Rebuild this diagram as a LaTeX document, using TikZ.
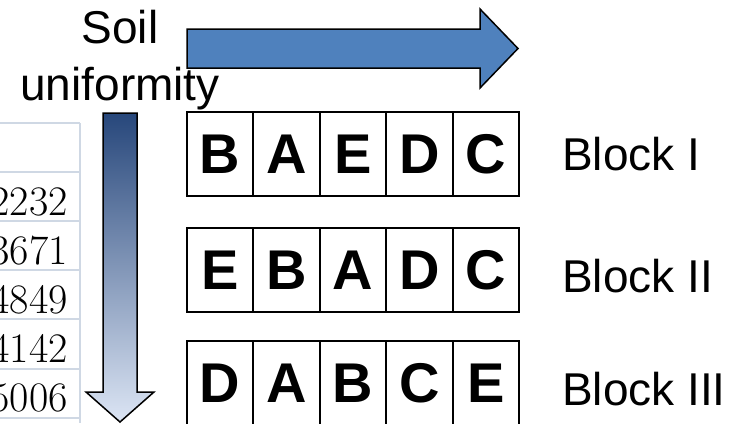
\documentclass[tikz,border=0pt]{standalone}
\usepackage{fontspec}
\setsansfont{Liberation Sans}
\definecolor{arrowblue}{HTML}{4F81BD}
\definecolor{shadetop}{HTML}{27477B}
\definecolor{shademid}{HTML}{8FA6CC}
\definecolor{shadebot}{HTML}{DCE5F4}
\definecolor{gridline}{HTML}{CFD8E4}
\begin{document}
\begin{tikzpicture}[x=1pt,y=-1pt,
  plotcell/.style={draw, line width=2pt, minimum width=66.4pt, minimum height=84pt,
    inner sep=0pt, font=\sffamily\bfseries\fontsize{56}{60}\selectfont},
  blocklabel/.style={anchor=base west, inner sep=0pt,
    font=\sffamily\fontsize{46}{52}\selectfont},
  tablenum/.style={anchor=base east, inner sep=0pt, font=\fontsize{42}{48}\selectfont},
  tablerule/.style={draw=gridline, line width=2.8pt},
  bigarrow/.style={draw=black, line width=1.5pt, line join=miter}]
\useasboundingbox (0,0) rectangle (744,423);
\clip (0,0) rectangle (744,423);

% fragment of the data table on the left
\foreach \y in {123,172,221,270,319,369,418}
  \draw[tablerule] (0,\y) -- (80,\y);
\draw[tablerule] (80,123) -- (80,423);
\foreach \v/\b [count=\i] in {2232/215,3671/264,4849/313,4142/362,5006/411}
  \node[tablenum] (num\i) at (68,\b) {\v};

% horizontal arrow (solid fill)
\path[bigarrow, fill=arrowblue]
  (187,29) -- (480,29) -- (480,9) -- (518,48.5) -- (480,88) -- (480,68) -- (187,68) -- cycle;

% vertical arrow (dark to light gradient)
\path[bigarrow, top color=shadetop, middle color=shademid, bottom color=shadebot]
  (103,113) -- (137,113) -- (137,392) -- (154,392) -- (120,422) -- (86,392) -- (103,392) -- cycle;

% axis caption (anchored on the baseline of its last line)
\node[anchor=base, align=center, inner sep=0pt,
  font=\sffamily\fontsize{46}{57}\selectfont] (caption) at (120,100) {Soil\\uniformity};

% plots of the three blocks
\foreach \row/\yc in {1/154,2/270,3/383}{
  \foreach \c in {1,...,5}{
    \coordinate (pos-\row-\c) at ({187+66.4*(\c-0.5)},\yc);
  }
}
\foreach \c/\t in {1/B,2/A,3/E,4/D,5/C}
  \node[plotcell] (cell-1-\c) at (pos-1-\c) {\t};
\foreach \c/\t in {1/E,2/B,3/A,4/D,5/C}
  \node[plotcell] (cell-2-\c) at (pos-2-\c) {\t};
\foreach \c/\t in {1/D,2/A,3/B,4/C,5/E}
  \node[plotcell] (cell-3-\c) at (pos-3-\c) {\t};

% block names
\node[blocklabel] (blockI) at (562,170) {Block I};
\node[blocklabel] (blockII) at (562,292) {Block II};
\node[blocklabel] (blockIII) at (562,405) {Block III};
\end{tikzpicture}
\end{document}
